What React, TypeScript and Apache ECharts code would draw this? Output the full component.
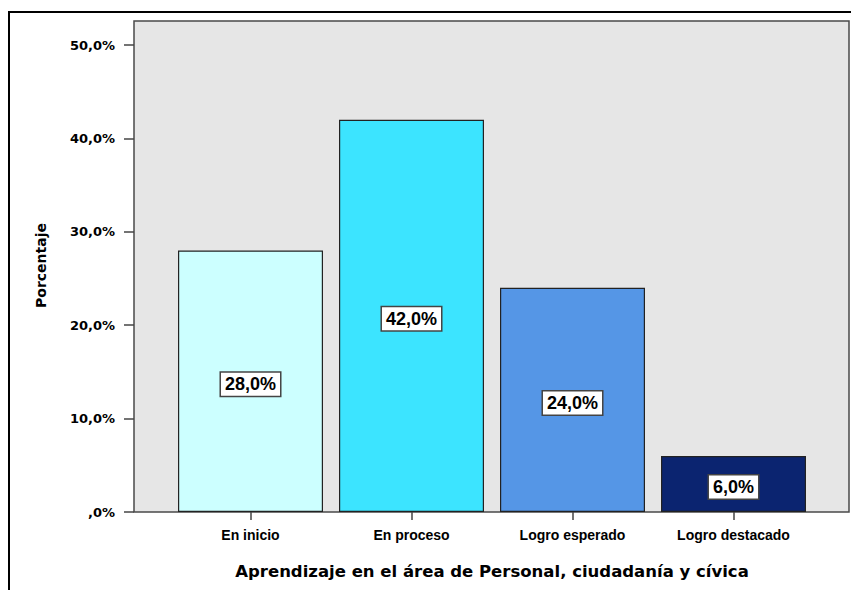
import React, { useEffect, useRef } from "react";
import * as echarts from "echarts";

const categories = ["En inicio", "En proceso", "Logro esperado", "Logro destacado"];
const values = [28.0, 42.0, 24.0, 6.0];
const barColors = ["#ccffff", "#3ce4ff", "#5596e6", "#0b2470"];
const yTicks = [0, 10, 20, 30, 40, 50];
const xTitle = "Aprendizaje en el área de Personal, ciudadanía y cívica";
const yTitle = "Porcentaje";

const fmt = (v: number) => (v === 0 ? ",0%" : v.toFixed(1).replace(".", ",") + "%");

export default function App() {
  const ref = useRef<HTMLDivElement>(null);
  useEffect(() => {
    if (!ref.current) return;
    const chart = echarts.init(ref.current, undefined, { renderer: "svg" });
    const plot = { left: 134, top: 21, right: 849, bottom: 512 };
    chart.setOption({
      animation: false,
      backgroundColor: "#ffffff",
      grid: { left: 170, right: 37, top: 45, bottom: 78 },
      graphic: [
        {
          type: "rect",
          z: -10,
          shape: { x: plot.left, y: plot.top, width: plot.right - plot.left, height: plot.bottom - plot.top },
          style: { fill: "#e6e6e6", stroke: "#4a4a4a", lineWidth: 1.5 },
        },
        { type: "line", shape: { x1: 8, y1: 12, x2: 851, y2: 12 }, style: { stroke: "#000", lineWidth: 2 } },
        { type: "line", shape: { x1: 9, y1: 11, x2: 9, y2: 590 }, style: { stroke: "#000", lineWidth: 2 } },
      ],
      xAxis: {
        type: "category",
        data: categories,
        axisLine: { show: false },
        axisTick: { show: true, alignWithLabel: true, length: 8, lineStyle: { color: "#444", width: 1.5 } },
        axisLabel: {
          margin: 16,
          color: "#000",
          fontFamily: "Liberation Sans, Arial, sans-serif",
          fontWeight: "bold",
          fontSize: 14,
        },
        name: xTitle,
        nameLocation: "middle",
        nameGap: 51,
        nameTextStyle: { color: "#000", fontFamily: "DejaVu Sans", fontWeight: "bold", fontSize: 16.5 },
      },
      yAxis: {
        type: "value",
        min: 0,
        max: 50,
        interval: 10,
        offset: 36,
        axisLine: { show: false },
        splitLine: { show: false },
        axisTick: { show: true, length: 10, lineStyle: { color: "#444", width: 1.5 } },
        axisLabel: {
          margin: 19,
          color: "#000",
          fontFamily: "DejaVu Sans",
          fontWeight: "bold",
          fontSize: 13,
          formatter: (v: number) => (yTicks.includes(v) ? fmt(v) : ""),
        },
        name: yTitle,
        nameLocation: "middle",
        nameGap: 86,
        nameTextStyle: {
          color: "#000",
          fontFamily: "DejaVu Sans",
          fontWeight: "bold",
          fontSize: 14,
          padding: [0, 0, 0, 26],
        },
      },
      series: [
        {
          type: "bar",
          barWidth: 145,
          data: values.map((v, i) => ({
            value: v,
            itemStyle: { color: barColors[i], borderColor: "#222", borderWidth: 1.2 },
          })),
          label: {
            show: true,
            position: "inside",
            offset: [0, 3],
            formatter: (p: any) => fmt(p.value),
            color: "#000",
            fontFamily: "Liberation Sans, Arial, sans-serif",
            fontWeight: "bold",
            fontSize: 18,
            backgroundColor: "#ffffff",
            borderColor: "#444",
            borderWidth: 1.5,
            padding: [3, 4, 2, 4],
          },
        },
      ],
    });
    return () => chart.dispose();
  }, []);
  return (
    <div
      ref={ref}
      style={{ position: "fixed", left: 0, top: 0, width: 851, height: 590 }}
    />
  );
}
